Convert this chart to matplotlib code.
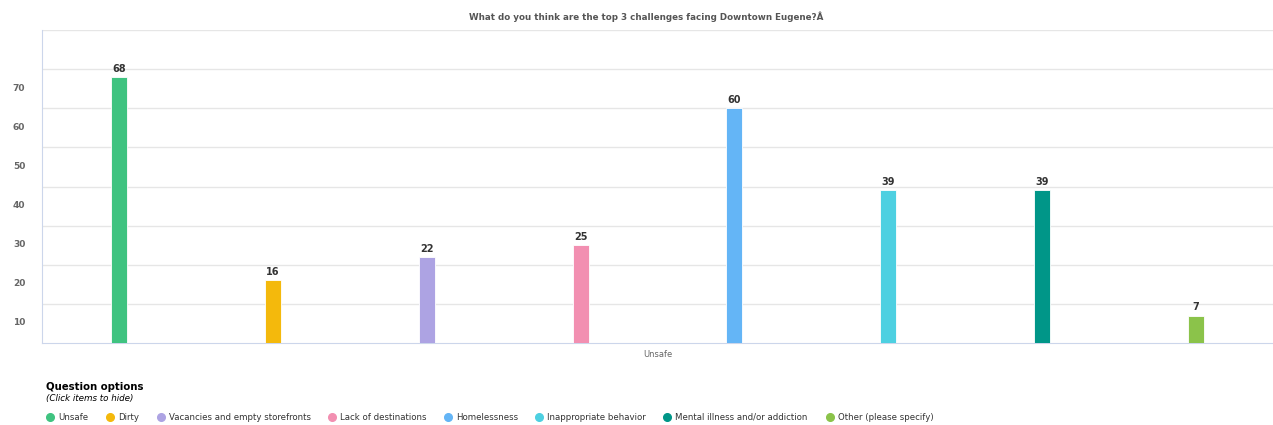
import matplotlib.pyplot as plt
import matplotlib.transforms as mtransforms
from matplotlib.lines import Line2D

# ====== Survey data ======
options = ["Unsafe", "Dirty", "Vacancies and empty storefronts", "Lack of destinations",
           "Homelessness", "Inappropriate behavior", "Mental illness and/or addiction",
           "Other (please specify)"]
counts = [68, 16, 22, 25, 60, 39, 39, 7]
colors = ["#3fc380", "#f4b90c", "#ada3e3", "#f28fb1",
          "#64b5f6", "#4dd0e1", "#009688", "#8bc34a"]
yticks = [10, 20, 30, 40, 50, 60, 70]
title = "What do you think are the top 3 challenges facing Downtown Eugene?Â"

plt.rcParams['font.family'] = ['DejaVu Sans']

fig = plt.figure(figsize=(12.73, 4.25), dpi=100)
ax = fig.add_axes([42 / 1273, 1 - 343 / 425, (1273 - 42) / 1273, (343 - 30) / 425])

x = list(range(len(counts)))
ax.bar(x, counts, width=0.104, color=colors, edgecolor='white', linewidth=0.6, zorder=3)
for xi, v in zip(x, counts):
    ax.text(xi, v + 0.8, str(v), ha='center', va='bottom', fontsize=7,
            fontweight='bold', color='#333333')

ax.set_xlim(-0.5, len(counts) - 0.5)
ax.set_ylim(0, 80)
ax.set_yticks(yticks + [80])
ax.set_yticklabels([str(t) for t in yticks] + [""])
ax.set_xticks([])
ax.grid(axis='y', color='#e6e6e6', linewidth=1, zorder=0)
for side in ['top', 'right']:
    ax.spines[side].set_visible(False)
for side in ['left', 'bottom']:
    ax.spines[side].set_color('#ccd6eb')
ax.tick_params(axis='y', length=0, pad=12, labelsize=6.5, labelcolor='#666666')

# tick labels sit a little below their gridlines
offset = mtransforms.ScaledTranslation(0, -18 / 100, fig.dpi_scale_trans)
for lab in ax.get_yticklabels():
    lab.set_transform(lab.get_transform() + offset)
    lab.set_fontweight('bold')

ax.text(0.5, -0.022, "Unsafe", transform=ax.transAxes, ha='center', va='top',
        fontsize=6, color='#666666')

fig.text(646 / 1273, 1 - 17 / 425, title, ha='center', va='center', fontsize=6.3,
         fontweight='bold', color='#555555')

# ====== Legend ======
fig.text(46 / 1273, 1 - 387 / 425, "Question options", ha='left', va='center',
         fontsize=7.3, fontweight='bold', color='#000000')
fig.text(46 / 1273, 1 - 399 / 425, "(Click items to hide)", ha='left', va='center',
         fontsize=6.3, style='italic', color='#000000')
legend_x = [50, 110, 161, 332, 448, 539, 667, 830]
for lx, name, c in zip(legend_x, options, colors):
    fig.add_artist(Line2D([lx / 1273], [1 - 417 / 425], marker='o', markersize=5.5,
                          color=c, linestyle='none', transform=fig.transFigure))
    fig.text((lx + 8) / 1273, 1 - 417 / 425, name, ha='left', va='center',
             fontsize=6.2, color='#333333')

fig.savefig("out.png", dpi=100)
